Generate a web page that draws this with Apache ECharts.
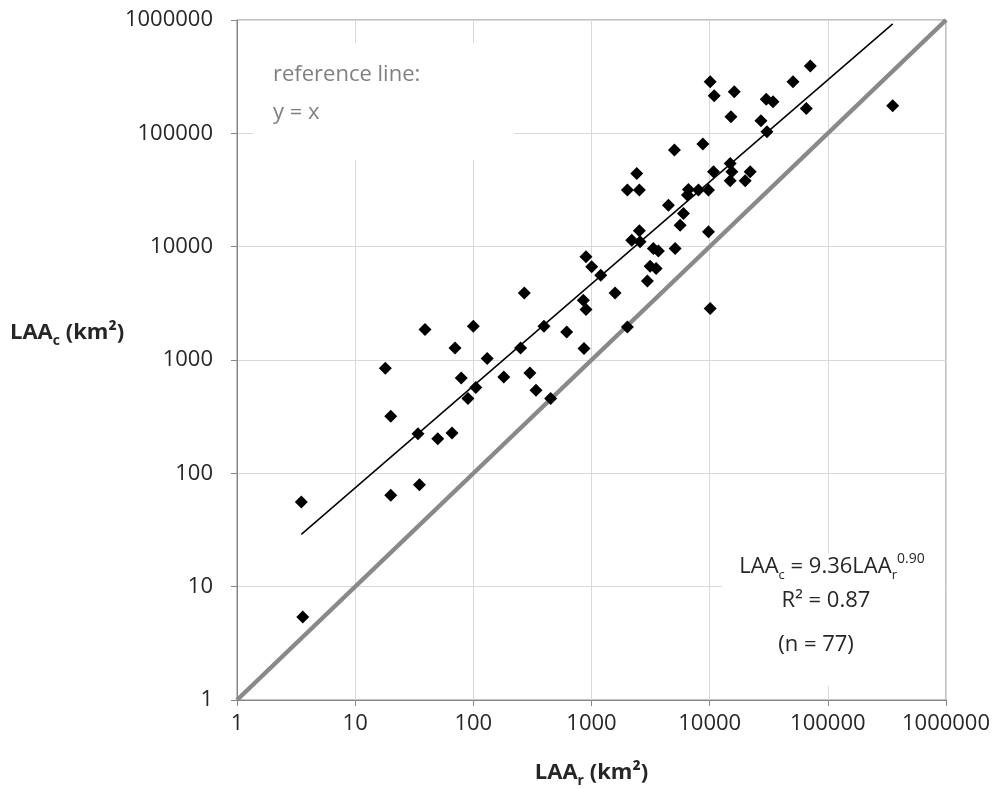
<!DOCTYPE html>
<html>
<head>
<meta charset="utf-8">
<script src="https://cdn.jsdelivr.net/npm/echarts@6/dist/echarts.min.js"></script>
<style>html,body{margin:0;padding:0;background:#fff;}#c{width:997px;height:789px;}</style>
</head>
<body>
<div id="c"></div>
<script>
// LAA_r (x) and LAA_c (y), km²
var laaR = [3.5, 3.6, 18, 20, 20, 39, 34, 35, 50, 66, 70, 79, 90, 105, 100, 131, 181, 251, 270, 301, 339, 396, 451, 617, 864, 853, 898, 898, 1004, 1197, 1582, 2012, 2192, 2577, 2541, 2012, 2541, 2416, 2971, 3133, 3522, 3340, 3682, 4476, 5034, 5100, 5623, 5996, 6486, 6610, 8035, 8756, 9770, 9770, 10100, 10770, 10100, 10920, 15130, 16140, 14920, 15420, 14920, 19990, 22030, 27170, 30130, 34340, 30530, 50700, 65750, 71100, 354000];
var laaC = [55.8, 5.4, 846, 319, 64, 1858, 224, 79.5, 202, 227, 1277, 694, 457, 571, 1986, 1030, 708, 1277, 3910, 769, 541, 1986, 457, 1770, 1262, 3371, 2788, 8128, 6633, 5600, 3910, 1959, 11410, 11030, 13790, 31550, 31550, 44300, 4990, 6728, 6418, 9640, 9180, 23240, 71100, 9640, 15490, 19650, 28500, 32000, 31550, 80400, 31550, 13510, 2846, 45750, 285000, 214700, 140000, 232700, 54300, 45750, 38100, 38100, 45750, 129100, 199400, 190000, 103200, 285000, 166000, 392600, 175000];
var tickValues = [1, 10, 100, 1000, 10000, 100000, 1000000];
var fitCoef = 9.36, fitExp = 0.90;
var refLine = [[1, 1], [1000000, 1000000]];

var xMin = Math.min.apply(null, laaR), xMax = Math.max.apply(null, laaR);
var fitLine = [[xMin, fitCoef * Math.pow(xMin, fitExp)], [xMax, fitCoef * Math.pow(xMax, fitExp)]];
var pts = laaR.map(function (x, i) { return [x, laaC[i]]; });

var FF = '"Open Sans", sans-serif';
var chart = echarts.init(document.getElementById('c'));
var axisCommon = {
  type: 'log', logBase: 10, min: 1, max: 1000000,
  axisLine: { show: true, lineStyle: { color: '#868686', width: 1 } },
  axisTick: { show: true, length: 6, lineStyle: { color: '#868686' } },
  minorTick: { show: false },
  splitLine: { show: true, lineStyle: { color: '#d9d9d9', width: 1 } },
  axisLabel: { color: '#262626', fontSize: 22, fontFamily: FF, formatter: function (v) { return String(Math.round(v)); } }
};
chart.setOption({
  animation: false,
  grid: { left: 237, right: 51, top: 20, bottom: 89, show: true, borderColor: '#868686', borderWidth: 1, containLabel: false, outerBoundsMode: 'none' },
  xAxis: echarts.util.merge({
    name: '{b|LAA}{s|r}{b| (km²)}', nameLocation: 'middle', nameGap: 58,
    nameTextStyle: { rich: {
      b: { fontSize: 22, fontWeight: 'bold', fontFamily: FF, color: '#262626', lineHeight: 30 },
      s: { fontSize: 14, fontWeight: 'bold', fontFamily: FF, color: '#262626', lineHeight: 14, verticalAlign: 'bottom' } } },
    axisLabel: { margin: 13 }
  }, axisCommon, true),
  yAxis: echarts.util.merge({ axisLabel: { margin: 24 } }, axisCommon, true),
  series: [
    { type: 'line', data: refLine, symbol: 'none', lineStyle: { color: '#898989', width: 4.5 }, z: 2, silent: true },
    { type: 'line', data: fitLine, symbol: 'none', lineStyle: { color: '#000', width: 1.5 }, z: 3, silent: true },
    { type: 'scatter', data: pts, symbol: 'diamond', symbolSize: 13, itemStyle: { color: '#000', opacity: 1 }, z: 4 }
  ],
  graphic: [
    { type: 'rect', shape: { x: 253, y: 43, width: 261, height: 117 }, style: { fill: '#fff' }, z: 1, silent: true },
    { type: 'text', left: 273, top: 56, z: 2, style: { text: 'reference line:\ny = x', fill: '#808080', fontSize: 22, fontFamily: FF, lineHeight: 38 } },
    { type: 'rect', shape: { x: 722, y: 553, width: 223, height: 133 }, style: { fill: '#fff' }, z: 1, silent: true },
    { type: 'text', x: 832, y: 567, z: 2, style: {
      text: '{m|LAA}{s|c}{m| = 9.36LAA}{s|r}{p|0.90}', align: 'center', verticalAlign: 'middle',
      rich: {
        m: { fontSize: 22, fontFamily: FF, fill: '#262626', lineHeight: 30 },
        s: { fontSize: 13, fontFamily: FF, fill: '#262626', lineHeight: 12, verticalAlign: 'bottom' },
        p: { fontSize: 14, fontFamily: FF, fill: '#262626', lineHeight: 14, verticalAlign: 'top' }
      } } },
    { type: 'text', x: 826, y: 601, z: 2, style: { text: 'R² = 0.87', align: 'center', verticalAlign: 'middle', fontSize: 22, fontFamily: FF, fill: '#262626' } },
    { type: 'text', x: 816, y: 645, z: 2, style: { text: '(n = 77)', align: 'center', verticalAlign: 'middle', fontSize: 22, fontFamily: FF, fill: '#262626' } },
    { type: 'text', x: 10, y: 333, z: 2, style: {
      text: '{b|LAA}{s|c}{b| (km²)}', align: 'left', verticalAlign: 'middle',
      rich: {
        b: { fontSize: 22, fontWeight: 'bold', fontFamily: FF, fill: '#262626', lineHeight: 30 },
        s: { fontSize: 14, fontWeight: 'bold', fontFamily: FF, fill: '#262626', lineHeight: 14, verticalAlign: 'bottom' }
      } } }
  ]
});
</script>
</body>
</html>
